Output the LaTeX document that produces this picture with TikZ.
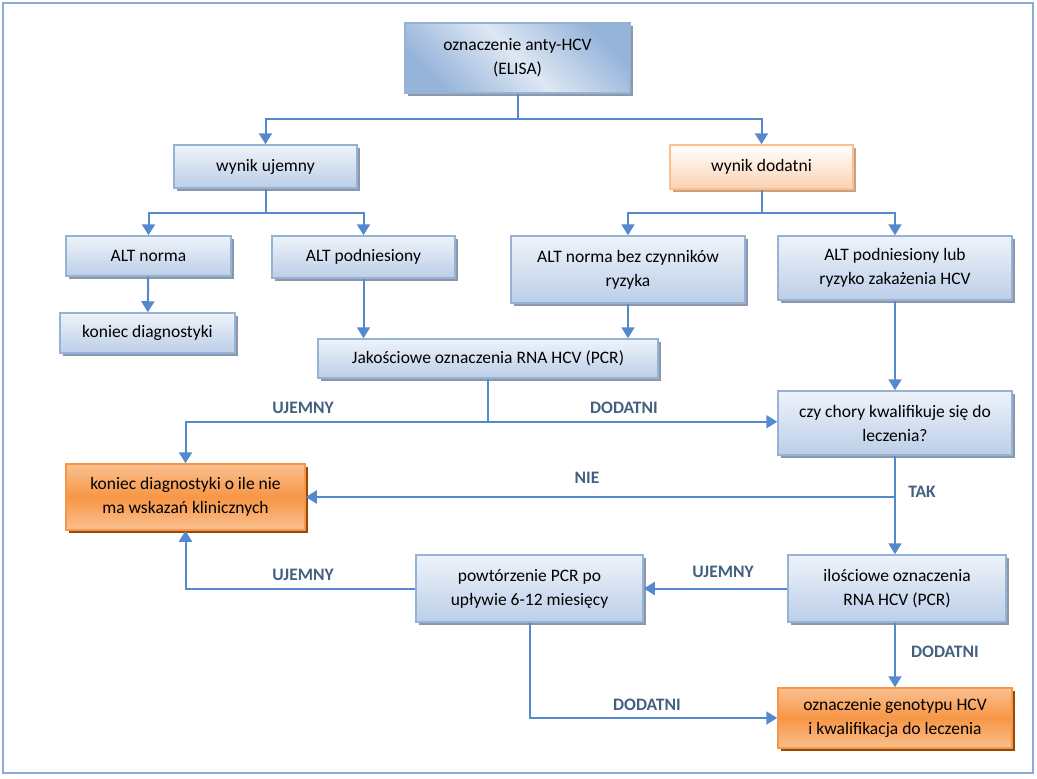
\documentclass[tikz,border=0pt]{standalone}
\usepackage{fontspec}
\setmainfont{Carlito}
\usetikzlibrary{arrows.meta,shadows}

\definecolor{lnblue}{RGB}{84,137,206}
\definecolor{frblue}{RGB}{142,170,219}
\definecolor{bxedge}{RGB}{149,179,215}
\definecolor{bxtop}{RGB}{238,243,249}
\definecolor{bxbot}{RGB}{188,206,232}
\definecolor{bxshad}{RGB}{140,151,170}
\definecolor{tbdark}{RGB}{150,180,218}
\definecolor{tblight}{RGB}{222,231,243}
\definecolor{ormid}{RGB}{247,150,70}
\definecolor{orlight}{RGB}{250,192,144}
\definecolor{orshad}{RGB}{152,72,7}
\definecolor{pcedge}{RGB}{250,192,144}
\definecolor{pcbot}{RGB}{251,210,176}
\definecolor{pcshad}{RGB}{200,160,130}
\definecolor{lbltxt}{RGB}{68,96,128}

\tikzset{
	box/.style={draw=bxedge, line width=1.5pt, top color=bxtop, bottom color=bxbot,
		align=center, inner sep=0pt, font=\fontsize{17.5}{24}\selectfont,
		drop shadow={shadow xshift=3pt, shadow yshift=-3pt, fill=bxshad, opacity=1}},
	topbox/.style={box, left color=tbdark, right color=tbdark, middle color=tblight, shading angle=135},
	posbox/.style={box, draw=pcedge, top color=white, bottom color=pcbot,
		drop shadow={shadow xshift=3pt, shadow yshift=-3pt, fill=pcshad, opacity=1}},
	endbox/.style={box, draw=ormid, top color=orlight, bottom color=orlight, middle color=ormid,
		drop shadow={shadow xshift=3pt, shadow yshift=-3pt, fill=orshad, opacity=1}},
	conn/.style={draw=lnblue, line width=2pt, -{Triangle[width=13pt,length=11pt]}},
	plain/.style={draw=lnblue, line width=2pt},
	lbl/.style={font=\bfseries\fontsize{17.5}{20}\selectfont, text=lbltxt, inner sep=0pt}
}

\begin{document}
\begin{tikzpicture}[x=1pt, y=-1pt]
	\useasboundingbox (0,0) rectangle (1037,779);
	\draw[frblue, line width=2pt] (3,3) rectangle (1033,773);

	% boxes
	\node[topbox, minimum width=225, minimum height=70] (anty) at (517.5,58) {oznaczenie anty-HCV\\(ELISA)};
	\node[box, minimum width=183, minimum height=43] (ujemny) at (265.5,166.5) {wynik ujemny};
	\node[posbox, minimum width=183, minimum height=44] (dodatni) at (761.5,167) {wynik dodatni};
	\node[box, minimum width=165, minimum height=40] (altn) at (148.5,256) {ALT norma};
	\node[box, minimum width=183, minimum height=42] (altp) at (363.5,257) {ALT podniesiony};
	\node[box, minimum width=175, minimum height=40] (koniec) at (147.5,333) {koniec diagnostyki};
	\node[box, minimum width=340, minimum height=39] (jakosc) at (488,358.5) {Jakościowe oznaczenia RNA HCV (PCR)};
	\node[box, minimum width=234, minimum height=67] (altnb) at (628,269.5) {ALT norma bez czynników\\ryzyka};
	\node[box, minimum width=234, minimum height=64] (altpl) at (895,268) {ALT podniesiony lub\\ryzyko zakażenia HCV};
	\node[box, minimum width=234, minimum height=64] (chory) at (895,423) {czy chory kwalifikuje się do\\leczenia?};
	\node[endbox, minimum width=239, minimum height=66] (konieco) at (185.5,497) {koniec diagnostyki o ile nie\\ma wskazań klinicznych};
	\node[box, minimum width=218, minimum height=67] (ilosc) at (897,588.5) {ilościowe oznaczenia\\RNA HCV (PCR)};
	\node[box, minimum width=227, minimum height=67] (powt) at (529.5,588.5) {powtórzenie PCR po\\upływie 6-12 miesięcy};
	\node[endbox, minimum width=234, minimum height=60] (genotyp) at (895,718) {oznaczenie genotypu HCV\\i kwalifikacja do leczenia};

	% connectors
	\draw[plain] (anty.south) -- ++(0,25) coordinate (a1);
	\draw[conn] (a1) -| (ujemny);
	\draw[conn] (a1) -| (dodatni);
	\draw[plain] (ujemny.south) -- ++(0,24) coordinate (u1);
	\draw[conn] (u1) -| (altn);
	\draw[conn] (u1) -| (altp);
	\draw[plain] (dodatni.south) -- ++(0,23) coordinate (d1);
	\draw[conn] (d1) -| (altnb);
	\draw[conn] (d1) -| (altpl);
	\draw[conn] (altn) -- (koniec);
	\draw[conn] (altp.south) -- (altp.south |- jakosc.north);
	\draw[conn] (altnb.south) -- (altnb.south |- jakosc.north);
	\draw[plain] (jakosc.south) -- ++(0,43) coordinate (j1);
	\draw[conn] (j1) -| (konieco);
	\draw[conn] (j1) -- (j1 -| chory.west);
	\draw[conn] (altpl) -- (chory);
	\draw[conn] (chory) -- (ilosc.north -| chory.south);
	\draw[conn] (konieco.east -| chory.south) -- (konieco.east);
	\draw[conn] (ilosc.west) -- (powt.east);
	\draw[conn] (powt.west) -| (konieco);
	\draw[conn] (powt.south) |- (genotyp.west);
	\draw[conn] (ilosc.south -| genotyp.north) -- (genotyp.north);

	% labels
	\node[lbl] (l1) at (303,408) {UJEMNY};
	\node[lbl] (l2) at (624,408) {DODATNI};
	\node[lbl] (l3) at (587,478) {NIE};
	\node[lbl] (l4) at (922,492) {TAK};
	\node[lbl] (l5) at (723,572) {UJEMNY};
	\node[lbl] (l6) at (303,575) {UJEMNY};
	\node[lbl] (l7) at (945,652) {DODATNI};
	\node[lbl] (l8) at (647,705) {DODATNI};
\end{tikzpicture}
\end{document}
